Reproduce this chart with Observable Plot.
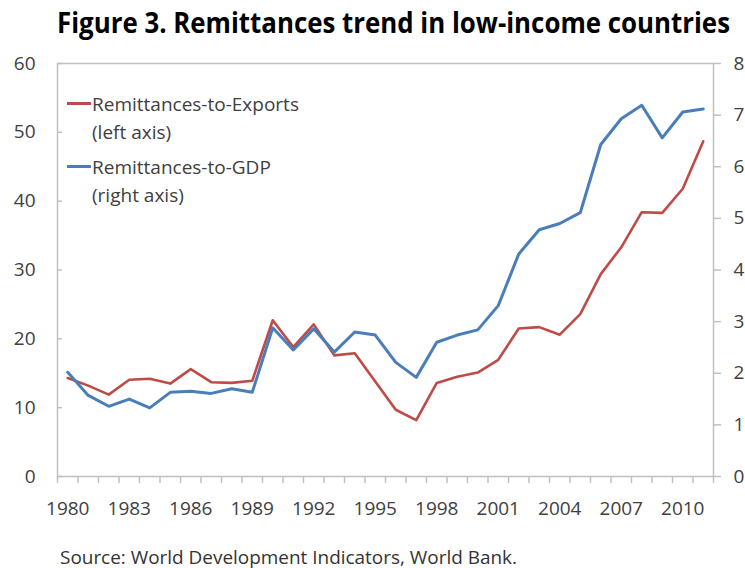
<!DOCTYPE html>
<html><head><meta charset="utf-8">
<script src="https://cdn.jsdelivr.net/npm/d3@7"></script>
<script src="https://cdn.jsdelivr.net/npm/@observablehq/plot@0.6"></script>
<style>
body{margin:0;background:#fff;}
#wrap{position:relative;width:745px;height:568px;overflow:hidden;font-family:"Open Sans",sans-serif;background:#fff;}
#title{position:absolute;left:57px;top:3px;line-height:38px;font-size:28px;font-weight:700;color:#000;white-space:nowrap;}
#title span,#source span{display:inline-block;transform-origin:0 50%;white-space:nowrap;}
#chart{position:absolute;left:0;top:45px;}
#source{position:absolute;left:60px;top:545px;line-height:24px;font-size:18px;color:#333;white-space:nowrap;}
.lg{position:absolute;left:92px;font-size:19px;line-height:28px;color:#404040;white-space:nowrap;}
.mk{position:absolute;left:67px;width:24px;}
</style></head>
<body><div id="wrap">
<div id="title"><span>Figure 3. Remittances trend in low-income countries</span></div>
<div id="chart"></div>
<div class="mk" id="mk1" style="top:102px;height:2.5px;"></div>
<div class="lg" id="lg1" style="top:90px;"></div>
<div class="mk" id="mk2" style="top:165px;height:3px;"></div>
<div class="lg" id="lg2" style="top:153px;"></div>
<div id="source"><span>Source: World Development Indicators, World Bank.</span></div>
</div>
<script>
const years = [1980,1981,1982,1983,1984,1985,1986,1987,1988,1989,1990,1991,1992,1993,1994,1995,1996,1997,1998,1999,2000,2001,2002,2003,2004,2005,2006,2007,2008,2009,2010,2011];
const remitToExports = [14.3,13.2,11.9,14.05,14.2,13.5,15.6,13.7,13.6,13.9,22.7,18.8,22.1,17.6,17.9,13.8,9.7,8.2,13.6,14.5,15.1,16.95,21.5,21.7,20.6,23.6,29.4,33.3,38.4,38.3,41.8,48.7];
const remitToGDP = [2.02,1.57,1.36,1.50,1.33,1.63,1.65,1.61,1.70,1.63,2.88,2.45,2.86,2.41,2.80,2.74,2.21,1.92,2.60,2.74,2.84,3.31,4.31,4.78,4.90,5.11,6.43,6.93,7.19,6.56,7.06,7.12];
const xTickLabels = [1980,1983,1986,1989,1992,1995,1998,2001,2004,2007,2010];
const leftTicks = [0,10,20,30,40,50,60];
const rightTicks = [0,1,2,3,4,5,6,7,8];
const seriesNames = ["Remittances-to-Exports", "Remittances-to-GDP"];
const seriesNotes = ["(left axis)", "(right axis)"];
const colors = ["#be4b48", "#4a7ebb"];

const leftMax = 60, rightMax = 8, k = leftMax / rightMax;
const rows = years.map((yr, i) => ({year: yr, exp: remitToExports[i], gdp: remitToGDP[i] * k}));
const bounds = d3.range(years[0] - 0.5, years[years.length - 1] + 1, 1);
const gray = "#c0c0c0";

const chart = Plot.plot({
  width: 745, height: 490,
  marginTop: 18, marginBottom: 59, marginLeft: 57, marginRight: 32,
  style: {fontFamily: '"Open Sans", sans-serif', fontSize: "19px", color: "#404040", background: "#fff"},
  x: {type: "linear", domain: [years[0] - 0.5, years[years.length - 1] + 0.5], axis: null},
  y: {domain: [0, leftMax], axis: null},
  marks: [
    Plot.frame({stroke: gray, strokeWidth: 1.5}),
    Plot.axisY({anchor: "left", label: null, ticks: leftTicks, tickSize: -5, tickPadding: 27, stroke: gray, strokeWidth: 1.5, fill: "#404040", tickFormat: d => String(d)}),
    Plot.axisY({anchor: "right", label: null, ticks: rightTicks.map(v => v * k), tickSize: 7, tickPadding: 13, stroke: gray, strokeWidth: 1.5, fill: "#404040", tickFormat: d => String(Math.round(d / k))}),
    Plot.axisX({anchor: "bottom", label: null, ticks: bounds, tickSize: 7, stroke: gray, strokeWidth: 1.5, tickFormat: () => ""}),
    Plot.axisX({anchor: "bottom", label: null, ticks: xTickLabels, tickSize: 0, tickPadding: 25, fill: "#404040", tickFormat: d => String(d)}),
    Plot.line(rows, {x: "year", y: "exp", stroke: colors[0], strokeWidth: 2.6}),
    Plot.line(rows, {x: "year", y: "gdp", stroke: colors[1], strokeWidth: 3})
  ]
});
document.getElementById("chart").appendChild(chart);

document.getElementById("lg1").innerHTML = seriesNames[0] + "<br>" + seriesNotes[0];
document.getElementById("lg2").innerHTML = seriesNames[1] + "<br>" + seriesNotes[1];
document.getElementById("mk1").style.background = colors[0];
document.getElementById("mk2").style.background = colors[1];

function fit(sel, w) {
  const s = document.querySelector(sel);
  const cur = s.getBoundingClientRect().width;
  s.style.transform = `scaleX(${w / cur})`;
}
fit("#title span", 673);
fit("#source span", 457);
</script>
</body></html>
